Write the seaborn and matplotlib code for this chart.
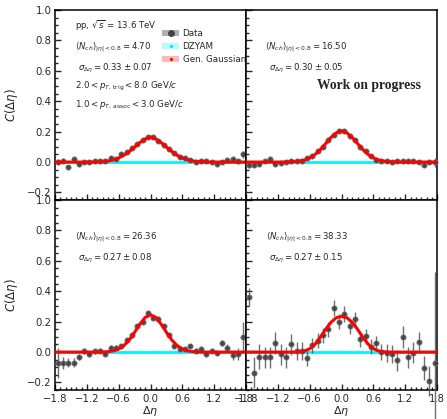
import numpy as np
import matplotlib
matplotlib.use("Agg")
import matplotlib.pyplot as plt
from matplotlib.patches import Patch
from matplotlib.lines import Line2D
from matplotlib.ticker import MultipleLocator
import seaborn as sns

# ---------------- data ----------------
deta = np.round(np.arange(-1.75, 1.76, 0.1), 2)      # bin centres
curve_x = np.round(np.arange(-1.8, 1.81, 0.1), 2)     # fit curve sampling

c_tl = [0.0, 0.01, -0.035, 0.02, -0.01, 0.0, 0.0, 0.005, 0.01, 0.01, 0.025, 0.02,
        0.05, 0.065, 0.09, 0.118, 0.147, 0.167, 0.167, 0.14, 0.11, 0.085, 0.058, 0.035,
        0.025, 0.013, 0.0, 0.01, 0.01, 0.0, -0.01, 0.0, 0.012, 0.018, 0.005, 0.05]
e_tl = [0.02, 0.015, 0.012, 0.01, 0.01, 0.01, 0.01, 0.01, 0.01, 0.01, 0.01, 0.01,
        0.01, 0.01, 0.01, 0.01, 0.01, 0.01, 0.01, 0.01, 0.01, 0.01, 0.01, 0.01,
        0.01, 0.01, 0.01, 0.01, 0.01, 0.01, 0.01, 0.01, 0.01, 0.012, 0.015, 0.025]
c_tr = [-0.02, -0.02, -0.01, 0.005, 0.018, -0.013, -0.005, 0.002, 0.005, 0.01, 0.01, 0.025,
        0.04, 0.07, 0.10, 0.142, 0.18, 0.207, 0.202, 0.173, 0.142, 0.10, 0.07, 0.04,
        0.013, 0.01, 0.005, 0.0, 0.01, 0.005, 0.005, 0.005, 0.0, -0.022, 0.0, 0.0]
e_tr = [0.02, 0.015, 0.012, 0.01, 0.01, 0.01, 0.01, 0.01, 0.01, 0.01, 0.01, 0.01,
        0.01, 0.01, 0.01, 0.01, 0.01, 0.01, 0.01, 0.01, 0.01, 0.01, 0.01, 0.01,
        0.01, 0.01, 0.01, 0.01, 0.01, 0.01, 0.01, 0.01, 0.01, 0.012, 0.015, 0.03]
c_bl = [-0.07, -0.07, -0.07, -0.07, -0.03, 0.005, -0.015, 0.005, 0.01, -0.01, 0.03, 0.03,
        0.04, 0.08, 0.11, 0.17, 0.20, 0.255, 0.225, 0.22, 0.17, 0.11, 0.04, 0.02,
        0.02, 0.04, 0.01, 0.02, -0.015, 0.01, -0.005, 0.06, 0.03, -0.02, -0.01, 0.10]
e_bl = [0.10, 0.04, 0.03, 0.03, 0.02, 0.02, 0.02, 0.015, 0.015, 0.015, 0.015, 0.015,
        0.015, 0.015, 0.015, 0.015, 0.015, 0.015, 0.015, 0.015, 0.015, 0.015, 0.015, 0.015,
        0.015, 0.015, 0.015, 0.015, 0.015, 0.015, 0.015, 0.02, 0.02, 0.03, 0.04, 0.10]
c_br = [0.36, -0.135, -0.03, -0.035, -0.035, 0.06, -0.015, -0.035, 0.05, 0.005, 0.005, -0.04,
        0.045, 0.075, 0.11, 0.15, 0.29, 0.20, 0.25, 0.17, 0.215, 0.085, 0.105, 0.035,
        0.057, 0.0, -0.005, -0.015, -0.055, 0.10, -0.035, -0.005, 0.065, -0.105, -0.19, -0.07]
e_br = [0.06, 0.10, 0.08, 0.07, 0.07, 0.07, 0.07, 0.07, 0.07, 0.06, 0.06, 0.05,
        0.05, 0.05, 0.05, 0.05, 0.05, 0.05, 0.05, 0.05, 0.05, 0.05, 0.05, 0.05,
        0.05, 0.05, 0.06, 0.06, 0.07, 0.07, 0.07, 0.07, 0.07, 0.08, 0.10, 0.60]

f_tl = [0, 0, 0, 0, 0, 0, 0, 0, 0.001, 0.003, 0.007, 0.014, 0.027, 0.045, 0.070, 0.098, 0.128, 0.152,
        0.165, 0.152, 0.128, 0.098, 0.070, 0.045, 0.027, 0.014, 0.007, 0.003, 0.001, 0, 0, 0, 0, 0, 0, 0, 0]
f_tr = [0, 0, 0, 0, 0, 0, 0, 0, 0.001, 0.002, 0.006, 0.013, 0.027, 0.050, 0.082, 0.122, 0.162, 0.192,
        0.205, 0.192, 0.162, 0.122, 0.082, 0.050, 0.027, 0.013, 0.006, 0.002, 0.001, 0, 0, 0, 0, 0, 0, 0, 0]
f_bl = [0, 0, 0, 0, 0, 0, 0, 0, 0, 0.001, 0.003, 0.008, 0.020, 0.043, 0.080, 0.130, 0.184, 0.228,
        0.245, 0.228, 0.184, 0.130, 0.080, 0.043, 0.020, 0.008, 0.003, 0.001, 0, 0, 0, 0, 0, 0, 0, 0, 0]
f_br = [0, 0, 0, 0, 0, 0, 0, 0, 0, 0.0, 0.002, 0.007, 0.022, 0.052, 0.098, 0.150, 0.196, 0.226,
        0.235, 0.226, 0.196, 0.150, 0.098, 0.052, 0.022, 0.007, 0.002, 0.0, 0, 0, 0, 0, 0, 0, 0, 0, 0]

nch_labels = ["4.70", "16.50", "26.36", "38.33"]
sigma_labels = ["0.33 \\pm 0.07", "0.30 \\pm 0.05", "0.27 \\pm 0.08", "0.27 \\pm 0.15"]
xticks = [-1.8, -1.2, -0.6, 0.0, 0.6, 1.2, 1.8]
xticklabels = ["\u22121.8", "\u22121.2", "\u22120.6", "0.0", "0.6", "1.2", "1.8"]
yticks = [-0.2, 0.0, 0.2, 0.4, 0.6, 0.8, 1.0]

# ---------------- style ----------------
sns.set_style("ticks")
plt.rcParams["font.family"] = ["DejaVu Sans"]
plt.rcParams["mathtext.fontset"] = "dejavusans"

fig, axes = plt.subplots(2, 2, sharex=True, sharey=True, figsize=(4.47, 4.19), dpi=100)
fig.subplots_adjust(left=0.123, right=0.978, top=0.976, bottom=0.069, wspace=0, hspace=0)

ANN = 6.2
panels = [(c_tl, e_tl, f_tl), (c_tr, e_tr, f_tr), (c_bl, e_bl, f_bl), (c_br, e_br, f_br)]
for i, ax in enumerate(axes.flat):
    c, e, f = panels[i]
    ax.axhline(0, color="#00f4ff", lw=2, zorder=2)
    ax.errorbar(deta, c, yerr=e, fmt="none", ecolor="#555555", elinewidth=1.0,
                alpha=0.85, zorder=3, clip_on=False)
    sns.scatterplot(x=deta, y=c, ax=ax, color="#3c3c3c", s=15, edgecolor="#808080",
                    linewidth=0.5, alpha=0.9, zorder=4, clip_on=False)
    sns.lineplot(x=curve_x, y=f, ax=ax, color="red", lw=2.2, zorder=5)
    ax.set_xlim(-1.8, 1.8)
    ax.set_ylim(-0.25, 1.0)
    ax.set_xticks(xticks)
    ax.set_yticks(yticks)
    ax.xaxis.set_minor_locator(MultipleLocator(0.1))
    ax.yaxis.set_minor_locator(MultipleLocator(0.05))
    ax.tick_params(which="both", direction="in", top=False, right=False, labelsize=7.3,
                   width=1.0, pad=2.5)
    ax.tick_params(which="major", length=4)
    ax.tick_params(which="minor", length=2)
    for sp in ax.spines.values():
        sp.set_linewidth(1.1)
        sp.set_color("black")
    ax.set_xlabel("")
    ax.set_ylabel("")
    ax.text(0.105 if i != 1 else 0.10, 0.80,
            r"$\langle N_{ch}\rangle_{|\eta|<0.8} = %s$" % nch_labels[i],
            transform=ax.transAxes, fontsize=ANN, va="center")
    ax.text(0.12, 0.695, r"$\sigma_{\Delta\eta} = %s$" % sigma_labels[i],
            transform=ax.transAxes, fontsize=ANN, va="center")

for ax in axes[1, :]:
    ax.set_xlabel(r"$\Delta\eta$", fontsize=8, labelpad=0)
    ax.set_xticklabels(xticklabels)
for ax in axes[:, 0]:
    ax.set_ylabel(r"$C(\Delta\eta)$", fontsize=8.5, labelpad=5)

ax0 = axes[0, 0]
ax0.text(0.105, 0.92, r"pp, $\sqrt{s}$ = 13.6 TeV", transform=ax0.transAxes,
         fontsize=ANN, va="center")
ax0.text(0.105, 0.60, r"$2.0 < p_{T,\,\mathrm{trig}} < 8.0$ GeV/$c$",
         transform=ax0.transAxes, fontsize=ANN, va="center")
ax0.text(0.105, 0.505, r"$1.0 < p_{T,\,\mathrm{assoc}} < 3.0$ GeV/$c$",
         transform=ax0.transAxes, fontsize=ANN, va="center")

handles = [
    (Patch(facecolor="#b0b0b0", edgecolor="none"),
     Line2D([], [], marker="o", color="#444444", ls="", markersize=4)),
    (Patch(facecolor="#b0ffff", edgecolor="none"),
     Line2D([], [], marker="o", color="#00e0ff", ls="", markersize=1.2)),
    (Patch(facecolor="#ffb8b8", edgecolor="none"),
     Line2D([], [], marker="o", color="red", ls="", markersize=1.2)),
]
ax0.legend(handles, ["Data", "DZYAM", "Gen. Gaussian"], loc="upper left",
           bbox_to_anchor=(0.56, 0.9), frameon=False, fontsize=6.3,
           handlelength=2.0, handleheight=0.7, handletextpad=0.35, labelspacing=0.45,
           borderpad=0.0, borderaxespad=0.0)

axes[0, 1].text(0.37, 0.605, "Work on progress", transform=axes[0, 1].transAxes,
                fontsize=9.8, fontweight="bold", family="Liberation Serif", va="center")

fig.savefig("out.png", dpi=100)
